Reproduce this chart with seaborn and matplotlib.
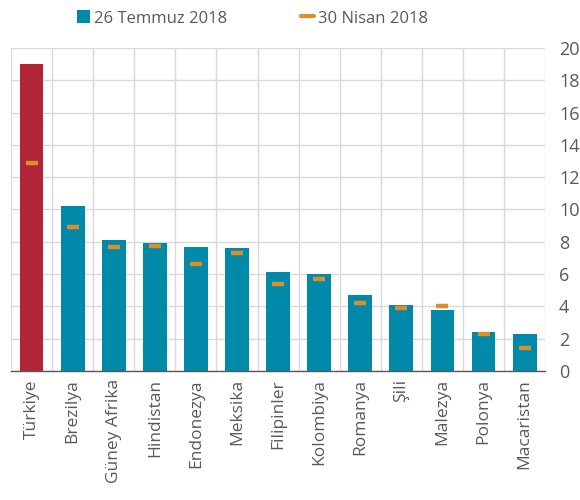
import numpy as np
import pandas as pd
import matplotlib
matplotlib.use("Agg")
import matplotlib.pyplot as plt
from matplotlib.lines import Line2D
from matplotlib.patches import Patch
import seaborn as sns

# Data
countries = ["Türkiye", "Brezilya", "Güney Afrika", "Hindistan", "Endonezya", "Meksika",
             "Filipinler", "Kolombiya", "Romanya", "Şili", "Malezya", "Polonya", "Macaristan"]
temmuz = [19.0, 10.2, 8.1, 7.9, 7.7, 7.6, 6.1, 6.0, 4.7, 4.1, 3.8, 2.4, 2.3]
nisan = [12.9, 8.9, 7.7, 7.75, 6.6, 7.3, 5.4, 5.7, 4.2, 3.9, 4.0, 2.3, 1.4]
yticks = [0, 2, 4, 6, 8, 10, 12, 14, 16, 18, 20]

teal = "#0089A8"
red = "#B02537"
orange = "#DA8F2A"
grey = "#595959"
gridc = "#D9D9D9"

sns.set_style("white")
plt.rcParams["font.family"] = ["Open Sans", "DejaVu Sans"]

df = pd.DataFrame({"country": countries, "temmuz": temmuz, "nisan": nisan})
colors = [red] + [teal] * (len(countries) - 1)

fig = plt.figure(figsize=(5.8, 5.0), dpi=100)
ax = fig.add_axes([0.019, 0.258, 0.921, 0.646])

sns.barplot(data=df, x="country", y="temmuz", hue="country", palette=colors,
            legend=False, width=0.58, saturation=1, edgecolor="none",
            ax=ax, zorder=2)
sns.scatterplot(data=df, x="country", y="nisan", marker="_", s=85, linewidth=3.2,
                color=orange, ax=ax, zorder=3, legend=False)

ax.set_xlim(-0.5, len(countries) - 0.5)
ax.set_ylim(0, 20)
ax.set_yticks(yticks)
ax.yaxis.tick_right()
ax.tick_params(axis="y", length=0, pad=10, labelsize=13, labelcolor=grey)

# boundaries between categories: gridlines + ticks on the bottom axis
ax.set_xticks(np.arange(-0.5, len(countries), 1.0), minor=True)
ax.tick_params(axis="x", which="major", length=0, pad=6, labelsize=12.5,
               labelcolor=grey, labelrotation=90)
ax.tick_params(axis="x", which="minor", length=5, width=1, color=grey, direction="out")
ax.grid(True, axis="y", which="major", color=gridc, linewidth=1, zorder=0)
ax.grid(True, axis="x", which="minor", color=gridc, linewidth=1, zorder=0)
ax.set_axisbelow(True)

for side in ["left", "right", "top"]:
    ax.spines[side].set_visible(False)
ax.spines["bottom"].set_color(grey)
ax.spines["bottom"].set_linewidth(1)
ax.set_xlabel("")
ax.set_ylabel("")

handles = [Patch(facecolor=teal, edgecolor="none", label="26 Temmuz 2018"),
           Line2D([0], [0], color=orange, linewidth=3, label="30 Nisan 2018")]
fig.legend(handles=handles, loc="center", bbox_to_anchor=(0.435, 0.963), ncol=2,
           frameon=False, fontsize=12, handlelength=0.8, handleheight=0.8,
           handletextpad=0.25, columnspacing=4.4, labelcolor=grey)

fig.savefig("out.png", dpi=100)
